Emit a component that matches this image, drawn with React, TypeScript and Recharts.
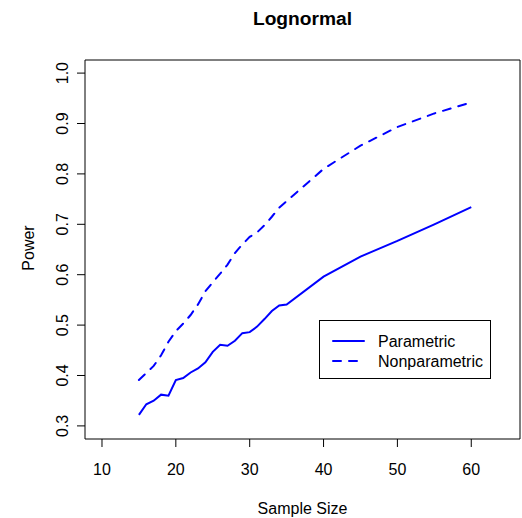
import React from "react";
import {
  LineChart,
  Line,
  XAxis,
  YAxis,
  ReferenceArea,
  Customized,
  Label,
} from "recharts";

// Sample sizes at which power was estimated
const sampleSizes = [
  15, 16, 17, 18, 19, 20, 21, 22, 23, 24, 25, 26, 27, 28, 29, 30, 31, 32, 33,
  34, 35, 40, 45, 50, 55, 60,
];

// Estimated power of the parametric test
const parametricPower = [
  0.322, 0.343, 0.35, 0.362, 0.36, 0.391, 0.395, 0.406, 0.414, 0.426, 0.447,
  0.461, 0.459, 0.469, 0.484, 0.486, 0.497, 0.512, 0.528, 0.539, 0.541, 0.596,
  0.636, 0.667, 0.7, 0.734,
];

// Estimated power of the nonparametric test
const nonparametricPower = [
  0.391, 0.405, 0.419, 0.44, 0.467, 0.488, 0.503, 0.52, 0.541, 0.567, 0.585,
  0.602, 0.62, 0.643, 0.66, 0.675, 0.684, 0.698, 0.715, 0.733, 0.746, 0.81,
  0.856, 0.893, 0.92, 0.942,
];

const xTicks = [10, 20, 30, 40, 50, 60];
const yTicks = [0.3, 0.4, 0.5, 0.6, 0.7, 0.8, 0.9, 1.0];
const seriesNames = ["Parametric", "Nonparametric"];

const chartTitle = "Lognormal";
const xTitle = "Sample Size";
const yTitle = "Power";

const data = sampleSizes.map((n, i) => ({
  n,
  parametric: parametricPower[i],
  nonparametric: nonparametricPower[i],
}));

const FONT = "'Liberation Sans', Arial, Helvetica, sans-serif";
const BLUE = "#0000ff";
const X_DOMAIN: [number, number] = [7.7, 66.6];
const Y_DOMAIN: [number, number] = [0.274, 1.026];

const YTick = (props: any) => {
  const { y, payload } = props;
  return (
    <text
      x={68}
      y={y}
      transform={`rotate(-90, 68, ${y})`}
      textAnchor="middle"
      fontFamily={FONT}
      fontSize={16}
      fill="#000"
    >
      {payload.value.toFixed(1)}
    </text>
  );
};

const LegendBox = () => {
  const left = 319.5;
  const top = 320.5;
  const rows = [
    { name: seriesNames[0], dash: undefined as string | undefined },
    { name: seriesNames[1], dash: "8 8" },
  ];
  return (
    <g>
      <rect
        x={left}
        y={top}
        width={171}
        height={58}
        fill="#fff"
        stroke="#000"
        strokeWidth={1}
      />
      {rows.map((r, i) => {
        const cy = top + 20.5 + i * 20;
        return (
          <g key={r.name}>
            <line
              x1={333}
              x2={364}
              y1={cy}
              y2={cy}
              stroke={BLUE}
              strokeWidth={2}
              strokeDasharray={r.dash}
              strokeLinecap="round"
            />
            <text
              x={378}
              y={cy + 5.8}
              fontFamily={FONT}
              fontSize={16}
              fill="#000"
            >
              {r.name}
            </text>
          </g>
        );
      })}
    </g>
  );
};

const Titles = () => (
  <g>
    <text
      x={302.5}
      y={25}
      textAnchor="middle"
      fontFamily={FONT}
      fontSize={19.2}
      fontWeight="bold"
      fill="#000"
    >
      {chartTitle}
    </text>
    <text
      x={302.5}
      y={514}
      textAnchor="middle"
      fontFamily={FONT}
      fontSize={16}
      fill="#000"
    >
      {xTitle}
    </text>
    <text
      x={33.5}
      y={248}
      transform="rotate(-90, 33.5, 248)"
      textAnchor="middle"
      fontFamily={FONT}
      fontSize={16}
      fill="#000"
    >
      {yTitle}
    </text>
  </g>
);

export default function App() {
  return (
    <div style={{ position: "absolute", left: 0, top: 0, background: "#fff" }}>
      <LineChart
        width={522}
        height={518}
        data={data}
        margin={{ top: 60, right: 2, bottom: 0, left: 0 }}
      >
        <XAxis
          dataKey="n"
          type="number"
          domain={X_DOMAIN}
          allowDataOverflow
          ticks={xTicks}
          interval={0}
          height={79}
          axisLine={false}
          tickLine={{ stroke: "#000" }}
          tickSize={8}
          tickMargin={17}
          tick={{ fill: "#000", fontSize: 16, fontFamily: FONT }}
        />
        <YAxis
          type="number"
          domain={Y_DOMAIN}
          allowDataOverflow
          ticks={yTicks}
          interval={0}
          width={85}
          axisLine={false}
          tickLine={{ stroke: "#000" }}
          tickSize={8}
          tick={<YTick />}
        />
        <ReferenceArea
          x1={X_DOMAIN[0]}
          x2={X_DOMAIN[1]}
          y1={Y_DOMAIN[0]}
          y2={Y_DOMAIN[1]}
          fill="none"
          fillOpacity={0}
          stroke="#000"
          strokeWidth={1}
          ifOverflow="visible"
        />
        <Line
          type="linear"
          dataKey="parametric"
          name={seriesNames[0]}
          stroke={BLUE}
          strokeWidth={2}
          dot={false}
          activeDot={false}
          isAnimationActive={false}
        />
        <Line
          type="linear"
          dataKey="nonparametric"
          name={seriesNames[1]}
          stroke={BLUE}
          strokeWidth={2}
          strokeDasharray="8 8"
          strokeLinecap="round"
          dot={false}
          activeDot={false}
          isAnimationActive={false}
        />
        <Customized component={LegendBox} />
        <Customized component={Titles} />
      </LineChart>
    </div>
  );
}
